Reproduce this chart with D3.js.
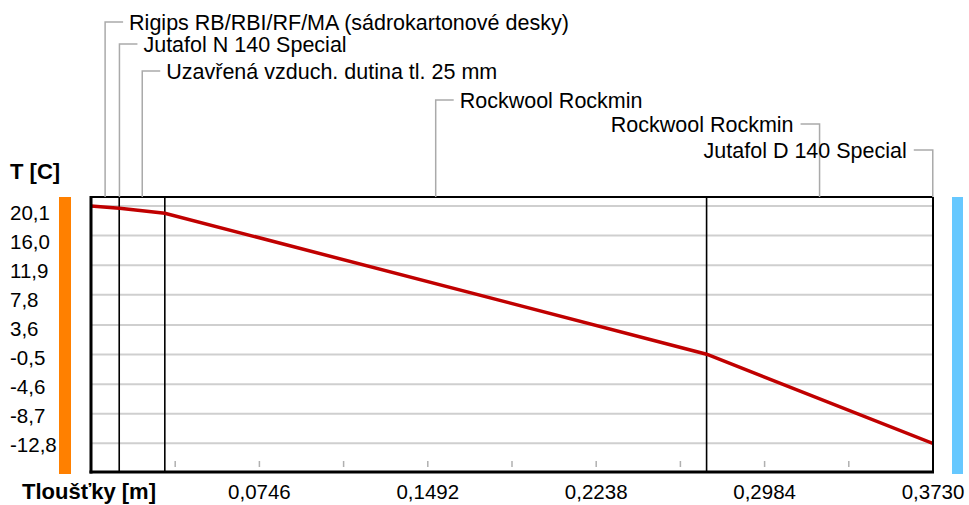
<!DOCTYPE html>
<html>
<head>
<meta charset="utf-8">
<script src="https://cdn.jsdelivr.net/npm/d3@7"></script>
<style>
  body { margin: 0; background: #fff; }
  text { font-family: "Liberation Sans", Arial, sans-serif; fill: #000; }
</style>
</head>
<body>
<div id="chart"></div>
<script>
/* DATA */
// layers of the wall, from inside to outside
var layerNames = [
  "Rigips RB/RBI/RF/MA (sádrokartonové desky)",
  "Jutafol N 140 Special",
  "Uzavřená vzduch. dutina tl. 25 mm",
  "Rockwool Rockmin",
  "Rockwool Rockmin",
  "Jutafol D 140 Special"
];
// layer boundaries [m]
var boundaries = [0, 0.0125, 0.0127, 0.0327, 0.2727, 0.3728, 0.3730];
// temperature at each boundary [C]
var temps = [20.1, 19.8, 19.8, 19.1, -0.45, -12.8, -12.8];

var yTickValues = [20.1, 16.0, 11.9, 7.8, 3.6, -0.5, -4.6, -8.7, -12.8];
var xMinorTicks = [0.0373, 0.0746, 0.1119, 0.1492, 0.1865, 0.2238, 0.2611, 0.2984, 0.3357];
var xLabelTicks = [0.0746, 0.1492, 0.2238, 0.2984, 0.3730];

/* LAYOUT */
var W = 969, H = 505;
var plot = { left: 91, right: 933, top: 197, bottom: 472 };
// vertical level of each layer label
var labelLevels = [22, 44, 71, 100, 124, 150];
var labelRight = [false, false, false, false, true, true];

var xScale = d3.scaleLinear()
  .domain([0, 0.373])
  .range([plot.left, plot.right]);

var yScale = d3.scaleLinear()
  .domain([-12.8, 20.1])
  .range([443.3, 206]);

// tick labels sit slightly below their grid lines
var yLabelScale = d3.scaleLinear()
  .domain([-12.8, 20.1])
  .range([445, 212.3]);

var svg = d3.select("#chart").append("svg")
  .attr("width", W)
  .attr("height", H);

// side bars (inside / outside)
svg.append("rect")
  .attr("x", 59).attr("y", 197)
  .attr("width", 12).attr("height", 277)
  .attr("fill", "#ff8000");

svg.append("rect")
  .attr("x", 952).attr("y", 197)
  .attr("width", 11).attr("height", 277)
  .attr("fill", "#66c8ff");

// grid lines
svg.selectAll(".grid")
  .data(yTickValues)
  .enter().append("line")
  .attr("class", "grid")
  .attr("x1", plot.left).attr("x2", plot.right)
  .attr("y1", function(d) { return yScale(d); })
  .attr("y2", function(d) { return yScale(d); })
  .attr("stroke", "#cfcfcf")
  .attr("stroke-width", 2);

// minor ticks on the bottom
svg.selectAll(".minor")
  .data(xMinorTicks)
  .enter().append("line")
  .attr("class", "minor")
  .attr("x1", function(d) { return xScale(d); })
  .attr("x2", function(d) { return xScale(d); })
  .attr("y1", 461).attr("y2", 467)
  .attr("stroke", "#b0b0b0")
  .attr("stroke-width", 1.5);

// layer boundaries
svg.selectAll(".layer")
  .data(boundaries.slice(1, boundaries.length - 1).filter(function(d, i) { return i != 1 && i != 4; }))
  .enter().append("line")
  .attr("class", "layer")
  .attr("x1", function(d) { return xScale(d); })
  .attr("x2", function(d) { return xScale(d); })
  .attr("y1", plot.top).attr("y2", plot.bottom)
  .attr("stroke", "#000")
  .attr("stroke-width", 1.6);

// temperature profile
var line = d3.line()
  .x(function(d, i) { return xScale(boundaries[i]); })
  .y(function(d) { return yScale(d); });

svg.append("path")
  .datum(temps)
  .attr("d", line)
  .attr("fill", "none")
  .attr("stroke", "#c00000")
  .attr("stroke-width", 3.5);

// frame
svg.append("line")
  .attr("x1", plot.left).attr("x2", plot.right)
  .attr("y1", plot.top).attr("y2", plot.top)
  .attr("stroke", "#000").attr("stroke-width", 2);
svg.append("line")
  .attr("x1", plot.right).attr("x2", plot.right)
  .attr("y1", plot.top).attr("y2", plot.bottom)
  .attr("stroke", "#000").attr("stroke-width", 2);
svg.append("line")
  .attr("x1", plot.left).attr("x2", plot.left)
  .attr("y1", plot.top - 1).attr("y2", plot.bottom + 1.5)
  .attr("stroke", "#000").attr("stroke-width", 3);
svg.append("line")
  .attr("x1", plot.left - 1.5).attr("x2", plot.right + 1)
  .attr("y1", plot.bottom).attr("y2", plot.bottom)
  .attr("stroke", "#000").attr("stroke-width", 3);

// y labels
svg.selectAll(".ylab")
  .data(yTickValues)
  .enter().append("text")
  .attr("class", "ylab")
  .attr("x", 10)
  .attr("y", function(d) { return yLabelScale(d); })
  .attr("dy", "0.36em")
  .style("font-size", "20.5px")
  .text(function(d) { return d3.format(".1f")(d).replace(".", ",").replace("−", "-"); });

// x labels
svg.selectAll(".xlab")
  .data(xLabelTicks)
  .enter().append("text")
  .attr("class", "xlab")
  .attr("x", function(d) { return xScale(d); })
  .attr("y", 491.5)
  .attr("dy", "0.36em")
  .attr("text-anchor", "middle")
  .style("font-size", "20.5px")
  .text(function(d) { return d3.format(".4f")(d).replace(".", ","); });

// axis titles
svg.append("text")
  .attr("x", 10).attr("y", 171.5).attr("dy", "0.36em")
  .style("font-size", "22px").style("font-weight", "bold")
  .text("T [C]");

svg.append("text")
  .attr("x", 22).attr("y", 491.5).attr("dy", "0.36em")
  .style("font-size", "22px").style("font-weight", "bold")
  .text("Tloušťky [m]");

// layer labels with leader lines
var labels = layerNames.map(function(name, i) {
  return {
    name: name,
    x: xScale((boundaries[i] + boundaries[i + 1]) / 2),
    y: labelLevels[i],
    right: labelRight[i]
  };
});

var lab = svg.selectAll(".lab")
  .data(labels)
  .enter().append("g")
  .attr("class", "lab");

lab.append("path")
  .attr("d", function(d) {
    var hx = d.right ? d.x - 19 : d.x + 18;
    return "M" + d.x + "," + plot.top + "V" + d.y + "H" + hx;
  })
  .attr("fill", "none")
  .attr("stroke", "#aaaaaa")
  .attr("stroke-width", 1.5);

lab.append("text")
  .attr("x", function(d) { return d.right ? d.x - 26 : d.x + 24; })
  .attr("y", function(d) { return d.y; })
  .attr("dy", "0.36em")
  .attr("text-anchor", function(d) { return d.right ? "end" : "start"; })
  .style("font-size", "21.5px")
  .text(function(d) { return d.name; });
</script>
</body>
</html>
